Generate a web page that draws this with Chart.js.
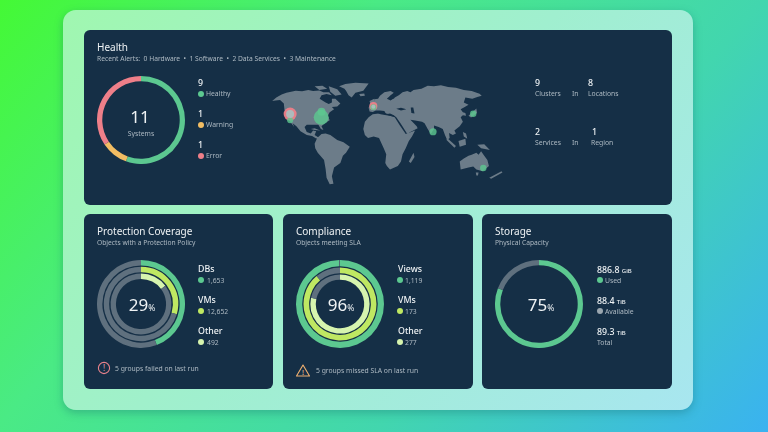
<!DOCTYPE html>
<html>
<head>
<meta charset="utf-8">
<title>Dashboard</title>
<script src="https://cdn.jsdelivr.net/npm/chart.js@4"></script>
<style>
  html, body { margin: 0; padding: 0; }
  body { width: 768px; height: 432px; overflow: hidden; position: relative; font-family: "Noto Sans", sans-serif;
    background: linear-gradient(132deg, #44f935 0%, #4aea85 33%, #42d6ae 66%, #3ab2f0 100%); }
  .panel { position: absolute; left: 63px; top: 10px; width: 630px; height: 400px; border-radius: 13px;
    background: linear-gradient(132deg, #a0f7b0 0%, #a0efcf 50%, #a8e6f0 100%); box-shadow: 0 3px 9px rgba(20, 100, 110, .35); }
  .card { position: absolute; background: #152f46; border-radius: 6px; }
  .t { position: absolute; white-space: nowrap; line-height: 1; transform: translateY(-50%); color: #eef2f4;
    will-change: transform; filter: blur(.3px); }
  .title { font-size: 10px; }
  .sub { font-size: 6.7px; color: #aebac3; }
  .num { font-size: 8.8px; font-weight: 500; }
  .small { font-size: 6.8px; color: #aebac3; }
  .center { font-size: 17px; }
  .center small { font-size: 8.5px; }
  .dot { position: absolute; width: 6px; height: 6px; border-radius: 50%; transform: translate(-50%, -50%); }
  canvas { position: absolute; display: block; }
  svg { position: absolute; }
</style>
</head>
<body>
<div class="panel"></div>
<div class="card" style="left:84px;top:30px;width:588px;height:175px"></div>
<div class="card" style="left:84px;top:214px;width:189px;height:175px"></div>
<div class="card" style="left:283px;top:214px;width:190px;height:175px"></div>
<div class="card" style="left:482px;top:214px;width:190px;height:175px"></div>

<svg style="left:97px;top:361px" width="14" height="14" viewBox="0 0 14 14">
  <circle cx="7" cy="7" r="5.6" fill="none" stroke="#e8828c" stroke-width="1.1"/>
  <text x="7" y="10" font-size="8" text-anchor="middle" fill="#e8a0a8" font-family="Noto Sans">!</text>
</svg>
<svg style="left:295px;top:363px" width="16" height="15" viewBox="0 0 16 15">
  <path d="M8 2 L14.5 13 L1.5 13 Z" fill="none" stroke="#f0b070" stroke-width="1.1" stroke-linejoin="round"/>
  <text x="8" y="11.8" font-size="7.5" text-anchor="middle" fill="#f0c090" font-family="Noto Sans">!</text>
</svg>

<script>
// ============================================================
// DATA
// ============================================================

const GREEN = '#5cc890';
const YELLOW = '#f2bd63';
const RED = '#ee7f89';
const LIME = '#bfe862';
const PALE = '#d6f4ae';
const GRAY = '#5f707e';

// ring shares, degrees
const healthRing = [200, 36, 124];
const healthCounts = ['9', '1', '1'];
const healthLabels = ['Healthy', 'Warning', 'Error'];

const protectionDbs = [159, 201];
const protectionVms = [106, 254];
const protectionOther = [53, 307];
const protectionLabels = ['DBs', 'VMs', 'Other'];
const protectionCounts = ['1,653', '12,652', '492'];

const complianceViews = [359, 1];
const complianceVms = [320, 40];
const complianceOther = [282, 78];
const complianceLabels = ['Views', 'VMs', 'Other'];
const complianceCounts = ['1,119', '173', '277'];

const storageRing = [291, 69];
const storageValues = ['886.8', '88.4', '89.3'];
const storageUnits = ['GiB', 'TiB', 'TiB'];
const storageLabels = ['Used', 'Available', 'Total'];

// map outlines, in units of a 780 x 390 map sheet
const northAmerica = [[15,80],[28,68],[45,58],[60,52],[90,45],[110,47],[130,42],[145,46],[165,44],[178,50],[196,50],[205,60],[188,56],[172,60],[166,72],[185,85],[195,90],[205,85],[205,72],[216,72],[232,88],[222,98],[205,100],[212,108],[198,118],[192,130],[198,145],[182,155],[172,165],[178,178],[170,175],[162,160],[145,160],[125,160],[118,168],[125,185],[138,190],[145,180],[155,182],[150,195],[165,205],[155,207],[142,198],[125,195],[105,182],[92,165],[80,155],[85,168],[72,150],[62,132],[54,110],[52,88],[40,76],[25,78]];
const arcticIslands = [[150,30],[175,28],[190,38],[165,42]];
const baffin = [[195,30],[222,40],[236,58],[216,62],[200,48]];
const southAmerica = [[172,192],[185,190],[200,195],[222,212],[242,220],[262,235],[250,255],[240,265],[232,290],[212,305],[205,335],[210,360],[198,362],[188,340],[185,310],[180,280],[160,255],[152,240],[150,225],[158,205]];
const greenland = [[248,22],[280,18],[322,20],[312,35],[305,45],[280,52],[268,68],[258,60],[250,45],[245,38],[228,30]];
const iceland = [[292,56],[308,54],[310,62],[296,64]];
const eurasia = [[322,103],[326,93],[343,88],[340,74],[352,72],[358,62],[372,50],[392,46],[402,52],[392,60],[380,72],[392,78],[408,66],[418,60],[430,50],[445,46],[455,50],[465,42],[490,38],[510,28],[530,30],[552,26],[575,32],[600,35],[625,42],[650,46],[675,55],[682,62],[668,66],[652,72],[630,68],[625,85],[640,92],[628,100],[615,108],[622,118],[630,120],[632,130],[622,128],[615,135],[622,150],[612,165],[595,180],[600,190],[590,195],[578,188],[580,205],[572,212],[565,195],[558,175],[545,168],[530,163],[530,175],[520,192],[510,175],[500,155],[492,150],[470,146],[455,143],[475,165],[478,172],[455,185],[445,192],[425,158],[410,135],[402,128],[390,122],[378,125],[372,114],[358,112],[345,112],[335,117],[325,115]];
const africa = [[310,150],[322,135],[335,125],[355,122],[375,125],[405,135],[420,160],[440,192],[470,180],[460,200],[450,215],[440,240],[430,260],[425,285],[415,300],[390,312],[380,300],[375,290],[378,260],[370,240],[355,205],[338,200],[320,205],[310,195],[305,175]];
const australia = [[612,285],[625,275],[640,265],[650,262],[665,255],[672,262],[680,250],[690,265],[700,280],[705,300],[685,318],[665,312],[655,302],[640,305],[615,312]];
const britain = [[325,80],[340,72],[345,90],[328,92]];
const japan = [[640,130],[665,105],[667,120],[648,136]];
const madagascar = [[450,285],[465,255],[468,270],[456,290]];
const sumatra = [[572,205],[600,232],[595,238],[570,212]];
const borneo = [[608,215],[630,208],[632,228],[612,235]];
const newGuinea = [[668,228],[690,226],[708,246],[680,240]];
const philippines = [[622,185],[632,190],[636,208],[625,200]];
const newZealand = [[706,340],[745,318],[748,322],[712,343]];
const tasmania = [[663,322],[672,322],[670,332],[665,332]];
const cuba = [[138,175],[150,172],[168,180],[150,178]];
const landmasses = [northAmerica, arcticIslands, baffin, southAmerica, greenland, iceland, eurasia, africa, australia, britain, japan, madagascar, sumatra, borneo, newGuinea, philippines, newZealand, tasmania, cuba];

// inland water cut out of the land
const blackSea = [[410,106],[425,103],[442,108],[425,112]];
const caspian = [[456,102],[464,102],[468,122],[458,120]];
const baltic = [[392,62],[400,60],[404,70],[394,74]];
const mediterranean = [[345,118],[378,122],[400,128],[402,132],[360,125]];
const waters = [blackSea, caspian, baltic, mediterranean];

// sites, one entry per bubble layer
const siteRedX = [72, 337];
const siteRedY = [124, 97];
const siteRedR = [6.5, 4];
const siteGreenX = [72, 171, 172, 337, 655, 527, 687];
const siteGreenY = [145, 135, 116, 101, 123, 184, 307];
const siteGreenR = [3, 7.5, 4, 3, 3.2, 3.6, 3.2];
const sitePaleX = [72, 337];
const sitePaleY = [124, 99];
const sitePaleR = [4, 2];

// ============================================================
// HELPERS
// ============================================================

function text(x, y, str, cls) {
  const el = document.createElement('div');
  el.className = 't ' + cls;
  el.style.left = x + 'px';
  el.style.top = y + 'px';
  el.innerHTML = str;
  document.body.appendChild(el);
  return el;
}

function dot(x, y, color) {
  const el = document.createElement('div');
  el.className = 'dot';
  el.style.left = x + 'px';
  el.style.top = y + 'px';
  el.style.background = color;
  document.body.appendChild(el);
}

function centerText(x, y, str, cls) {
  const el = text(x, y, str, cls);
  el.style.transform = 'translate(-50%, -50%)';
  return el;
}

function makeCanvas(left, top, width, height) {
  const c = document.createElement('canvas');
  c.width = width;
  c.height = height;
  c.style.left = left + 'px';
  c.style.top = top + 'px';
  c.style.width = width + 'px';
  c.style.height = height + 'px';
  document.body.appendChild(c);
  return c;
}

function ring(cx, cy, datasets, cutout) {
  new Chart(makeCanvas(cx - 44, cy - 44, 88, 88), {
    type: 'doughnut',
    data: { datasets },
    options: {
      responsive: false,
      animation: false,
      cutout,
      plugins: { legend: { display: false }, tooltip: { enabled: false } }
    }
  });
}

function arc(data, colors, weight) {
  return { data, backgroundColor: colors, borderWidth: 0, weight };
}

function spacer(weight) {
  return { data: [1], backgroundColor: ['rgba(0,0,0,0)'], borderWidth: 0, weight };
}

// ============================================================
// HEALTH
// ============================================================

text(97, 47, 'Health', 'title');
text(97, 59, 'Recent Alerts:&nbsp; 0 Hardware &nbsp;•&nbsp; 1 Software &nbsp;•&nbsp; 2 Data Services &nbsp;•&nbsp; 3 Maintenance', 'sub');
ring(141, 120, [arc(healthRing, [GREEN, YELLOW, RED], 1)], '88%');
centerText(140, 116, '11', 'center');
centerText(141, 134, 'Systems', 'small');
[GREEN, YELLOW, RED].forEach((color, i) => {
  const y = 83 + i * 31;
  text(198, y, healthCounts[i], 'num');
  dot(201, y + 11, color);
  text(206, y + 11, healthLabels[i], 'small');
});

text(535, 83, '9', 'num');
text(535, 94, 'Clusters', 'small');
text(572, 94, 'In', 'small');
text(588, 83, '8', 'num');
text(588, 94, 'Locations', 'small');
text(535, 131.5, '2', 'num');
text(535, 143, 'Services', 'small');
text(572, 143, 'In', 'small');
text(592, 131.5, '1', 'num');
text(591, 143, 'Region', 'small');

const toPoints = pts => pts.map(([x, y]) => ({ x, y }));
const toBubbles = (xs, ys, rs) => xs.map((x, i) => ({ x, y: ys[i], r: rs[i] }));
const filledShape = (pts, color, order) => ({
  data: toPoints(pts),
  showLine: true,
  fill: 'shape',
  backgroundColor: color,
  borderWidth: 0,
  pointRadius: 0,
  order
});

new Chart(makeCanvas(260, 70, 260, 130), {
  type: 'scatter',
  data: {
    datasets: [
      ...landmasses.map(land => filledShape(land, '#6c7c89', 5)),
      ...waters.map(water => filledShape(water, '#152f46', 4)),
      { type: 'bubble', data: toBubbles(siteRedX, siteRedY, siteRedR), backgroundColor: 'rgba(238,127,137,.95)', borderWidth: 0, order: 3 },
      { type: 'bubble', data: toBubbles(siteGreenX, siteGreenY, siteGreenR), backgroundColor: 'rgba(92,200,144,.8)', borderWidth: 0, order: 2 },
      { type: 'bubble', data: toBubbles(sitePaleX, sitePaleY, sitePaleR), backgroundColor: 'rgba(170,190,190,.95)', borderWidth: 0, order: 1 }
    ]
  },
  options: {
    responsive: false,
    animation: false,
    scales: {
      x: { display: false, min: 0, max: 780 },
      y: { display: false, min: 0, max: 390, reverse: true }
    },
    plugins: { legend: { display: false }, tooltip: { enabled: false } }
  }
});

// ============================================================
// PROTECTION COVERAGE
// ============================================================

text(97, 231, 'Protection Coverage', 'title');
text(97, 243, 'Objects with a Protection Policy', 'sub');
ring(141, 304, [
  arc(protectionDbs, [GREEN, GRAY], 5.4), spacer(1.4),
  arc(protectionVms, [LIME, GRAY], 5.4), spacer(1.4),
  arc(protectionOther, [PALE, GRAY], 5.4)
], '57%');
centerText(142, 304, '29<small>%</small>', 'center');
[GREEN, LIME, PALE].forEach((color, i) => {
  const y = 269 + i * 31;
  text(198, y, protectionLabels[i], 'num');
  dot(201, y + 11, color);
  text(207, y + 11.5, protectionCounts[i], 'small');
});
text(115, 369, '5 groups failed on last run', 'small');

// ============================================================
// COMPLIANCE
// ============================================================

text(296, 231, 'Compliance', 'title');
text(296, 243, 'Objects meeting SLA', 'sub');
ring(340, 304, [
  arc(complianceViews, [GREEN, GRAY], 6), spacer(1.2),
  arc(complianceVms, [LIME, GRAY], 5.4), spacer(1.2),
  arc(complianceOther, [PALE, GRAY], 5.2)
], '55%');
centerText(341, 304, '96<small>%</small>', 'center');
[GREEN, LIME, PALE].forEach((color, i) => {
  const y = 269 + i * 31;
  text(398, y, complianceLabels[i], 'num');
  dot(400, y + 11, color);
  text(405, y + 11.5, complianceCounts[i], 'small');
});
text(316, 371, '5 groups missed SLA on last run', 'small');

// ============================================================
// STORAGE
// ============================================================

text(495, 231, 'Storage', 'title');
text(495, 243, 'Physical Capacity', 'sub');
ring(539, 304, [arc(storageRing, [GREEN, GRAY], 1)], '88%');
centerText(541, 304, '75<small>%</small>', 'center');
storageValues.forEach((val, i) => {
  const y = 269.5 + i * 31;
  text(597, y, `${val} <span style="font-size:6px">${storageUnits[i]}</span>`, 'num');
});
dot(599.5, 280, GREEN);
text(605, 280.5, storageLabels[0], 'small');
dot(599.5, 311, '#9aa6af');
text(605, 311.5, storageLabels[1], 'small');
text(597, 342.5, storageLabels[2], 'small');
</script>
</body>
</html>
